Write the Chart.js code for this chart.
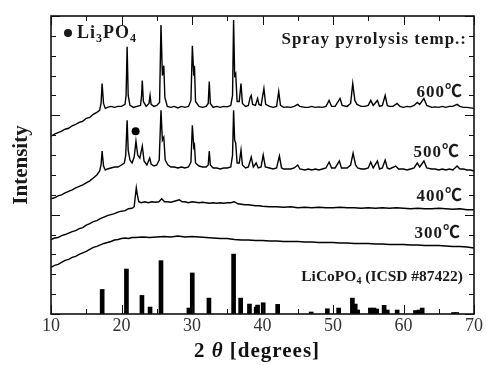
<!DOCTYPE html>
<html>
<head>
<meta charset="utf-8">
<script src="https://cdn.jsdelivr.net/npm/chart.js@4.4.1/dist/chart.umd.min.js"></script>
<style>
  html, body { margin: 0; padding: 0; background: #fff; }
  #wrap { width: 486px; height: 365px; }
</style>
</head>
<body>
<div id="wrap"><canvas id="xrd"></canvas></div>
<script>
// XRD patterns, [2theta, intensity (a.u., offset per trace)]
const trace600 = [[10,179],[10.5,181],[11,182.5],[11.5,184],[12,186],[12.5,187],[13,189.5],[13.5,191],[14,193],[14.5,194],[15,197],[15.5,198],[16,201],[16.5,203],[16.9,205],[17.1,212],[17.25,232],[17.45,212],[17.7,207],[18,208],[18.5,209],[19,208],[19.5,209],[20,209],[20.5,211],[20.65,220],[20.8,269],[20.95,220],[21.2,210],[21.7,208],[22.2,209],[22.7,210],[22.85,220],[22.95,235],[23.1,214],[23.5,209],[23.9,212],[24.05,220],[24.2,211],[24.6,209],[25,210],[25.4,213],[25.6,291],[25.8,240],[26,250],[26.15,218],[26.5,209],[27,208],[27.5,209],[28,207.5],[28.5,209],[29,208],[29.5,209],[29.85,215],[30.05,270],[30.25,240],[30.35,250],[30.5,214],[31,209],[31.5,208],[32,209],[32.3,212],[32.45,234],[32.6,212],[33,208],[33.5,209],[34,208],[34.5,209],[35,208.5],[35.5,210],[35.75,220],[35.9,296],[36.05,240],[36.2,242],[36.4,214],[36.7,214],[36.95,232],[37.15,212],[37.6,209],[38,210],[38.25,218],[38.4,220],[38.6,211],[39,210],[39.3,217],[39.5,211],[39.8,210],[40.2,227],[40.45,211],[41,209],[41.5,208],[42,209],[42.3,224],[42.55,210],[43,208],[43.5,208.5],[44,208],[44.5,209],[45,211],[45.3,209],[46,208],[46.5,208],[46.95,209],[47.5,208],[48,208.5],[48.5,208],[49,209],[49.45,215],[49.8,209],[50.3,209],[51,217],[51.3,210],[52,209],[52.5,212],[52.8,232],[53.1,215],[53.4,211],[54,209],[54.5,209],[55,210],[55.35,215],[55.7,210],[56.3,215],[56.6,209],[57,210],[57.4,220],[57.7,210],[58,209],[58.5,209],[59.1,212],[59.5,209],[60,208],[60.5,209],[61,208.5],[61.5,210],[61.95,213],[62.3,211],[62.9,217],[63.3,210],[64,208],[64.5,208.5],[65,208],[65.5,209],[66,208],[66.5,209],[67,209],[67.6,211],[68,209],[68.5,208],[69,208],[69.5,207.5],[70,207]];

const trace500 = [[10,116],[10.5,117],[11,119],[11.5,120],[12,122],[12.5,123.5],[13,125],[13.5,127],[14,128.5],[14.5,130],[15,132],[15.5,134],[16,137],[16.5,140],[16.9,144],[17.1,150],[17.25,164],[17.45,149],[17.7,145],[18,146],[18.5,147],[19,148],[19.5,148],[20,150],[20.4,152],[20.6,160],[20.8,195],[20.95,165],[21.2,155],[21.5,152],[21.8,158],[22.05,174],[22.3,160],[22.6,157],[22.95,169],[23.2,154],[23.6,150],[24,157],[24.2,151],[24.6,149],[25,150],[25.35,155],[25.6,205],[25.8,175],[26,178],[26.2,155],[26.6,150],[27,148],[27.5,148],[28,147],[28.5,148],[29,147],[29.5,148],[29.85,153],[30.05,190],[30.25,168],[30.35,170],[30.5,152],[31,149],[31.5,148],[32,148],[32.3,150],[32.45,164],[32.6,150],[33,147],[33.5,147],[34,146],[34.5,147],[35,147],[35.5,148],[35.75,160],[35.9,205],[36.05,175],[36.2,172],[36.4,152],[36.7,152],[36.95,165],[37.15,150],[37.6,147],[38,148],[38.4,158],[38.7,148],[39.1,152],[39.4,147],[39.8,148],[40.1,160],[40.4,148],[41,147],[41.5,146],[42,147],[42.4,159],[42.7,147],[43,146],[43.5,146],[44,146],[44.5,147],[45,150],[45.3,146],[46,145],[46.5,146],[47,145],[47.5,146],[48,145],[48.5,146],[49,147],[49.45,153],[49.8,147],[50.3,147],[50.9,154],[51.2,147],[52,147],[52.5,150],[52.85,162],[53.2,150],[53.5,147],[54,146],[54.5,146],[55,147],[55.35,153],[55.7,147],[56.3,154],[56.6,146],[57,147],[57.4,155],[57.7,147],[58,146],[58.9,149],[59.3,146],[60,146],[60.5,145],[61,146],[61.5,147],[61.95,152],[62.3,148],[62.9,154],[63.3,147],[64,146],[64.5,146],[65,145],[65.5,146],[66,145],[66.5,146],[67,145],[67.6,149],[68,146],[68.5,146],[69,145],[69.5,145],[70,144]];

const trace400 = [[10,75],[10.5,76.5],[11,77],[11.5,79],[12,80],[12.5,81.5],[13,83],[13.5,84],[14,86],[14.5,87],[15,89.5],[15.5,91],[16,93],[16.5,94],[17,96],[17.5,97.5],[18,99],[18.5,100],[19,101],[19.5,102.5],[20,103.5],[20.5,104],[21,106],[21.5,106.5],[21.8,108],[21.95,118],[22.1,127],[22.25,120],[22.45,113],[22.8,112],[23.3,113],[23.8,112],[24.3,113],[24.8,112.5],[25.3,113],[25.7,116],[26.1,113],[26.5,113],[27,112.5],[27.5,113.5],[28.2,115],[28.6,113],[29,113],[29.5,112],[30,113],[30.5,112.5],[31,112],[31.5,112.5],[32,112],[32.5,111.5],[33,112],[33.5,111.5],[34,112],[34.5,111.5],[35,112],[35.5,112],[36,113],[36.5,111],[37,110.5],[37.5,110],[38,110],[38.5,109.5],[39,109],[39.5,109],[40,108.5],[41,108],[42,108],[43,107.5],[44,108],[45,107],[46,107.5],[47,107],[48,107.5],[49,107],[50,107],[51,107.5],[52,107],[53,107],[54,106.5],[55,107],[56,106.5],[57,107],[58,106.5],[59,107],[60,106.5],[61,106],[62,106.5],[63,106],[64,106],[65,106.5],[66,106],[67,105.5],[68,106],[69,105],[70,105]];

const trace300 = [[10,47],[10.5,49],[11,50],[11.5,52],[12,54],[12.5,55],[13,57],[13.5,58],[14,60],[14.5,61.5],[15,63],[15.5,65],[16,67],[16.5,68],[17,69.5],[17.5,71],[18,72],[18.5,73],[19,74.5],[19.5,75],[20,76],[20.5,76.5],[21,76],[21.5,77],[22,77],[23,77.5],[24,77],[25,77.5],[26,78],[27,77.5],[28,78.5],[29,77.5],[30,78],[31,77.5],[32,77],[33,76.5],[34,76],[35,76],[36,75],[37,74.5],[38,74.5],[39,74],[40,74],[41,73.5],[42,73.5],[43,73],[44,73],[45,73],[46,72.5],[47,72.5],[48,72],[49,72],[50,72],[51,71.5],[52,71.5],[53,71],[54,71],[55,71],[56,70.5],[57,70.5],[58,70],[59,70],[60,70],[61,69.5],[62,69.5],[63,69],[64,69],[65,69],[66,68.5],[67,68],[68,68],[69,67.5],[70,66.5]];

// LiCoPO4 reference pattern (ICSD #87422)
const refAngles = [17.26, 20.7, 22.9, 24.05, 25.6, 29.56, 30.04, 32.4, 35.9, 36.9, 38.15, 39.1, 39.3, 40.1, 42.15, 46.9, 49.2, 50.8, 52.75, 53.15, 53.5, 55.3, 55.8, 56.2, 57.25, 57.7, 59.1, 61.7, 62.2, 62.65, 67.1, 67.55];
const refHeights = [24.7, 45.3, 18.7, 7, 53.7, 6, 41.3, 16, 60.3, 16, 10, 7, 9, 11.3, 9.7, 2, 5.3, 6, 16, 10, 4, 6, 6, 5, 8.7, 4, 4, 3.5, 4, 6, 1.5, 1.5];

// Li3PO4 impurity peak marker (500 C pattern)
const li3po4Angle = [22.0];
const li3po4Mark = [184];

const xTicks = [10, 20, 30, 40, 50, 60, 70];
const xMinorTicks = [15, 25, 35, 45, 55, 65];
const yTicks = [0, 20, 40, 60, 80, 100, 120, 140, 160, 180, 200, 220, 240, 260, 280, 300];

const SERIF = '"Liberation Serif", "Noto Sans CJK JP", serif';
const toPts = arr => arr.map(p => ({ x: p[0], y: p[1] }));

function lineSet(data) {
  return {
    type: 'line', data: toPts(data), borderColor: '#000', borderWidth: 1.4,
    pointRadius: 0, tension: 0, fill: false
  };
}

function drawRich(ctx, parts, x, y, size, align, spacing) {
  const fontFor = k => (k === 'it' ? 'italic ' : '') + 'bold ' +
    (k === 'sub' ? Math.round(size * 0.65) : size) + 'px ' + SERIF;
  ctx.letterSpacing = (spacing || 0) + 'px';
  let w = 0;
  parts.forEach(([t, k]) => { ctx.font = fontFor(k); w += ctx.measureText(t).width; });
  let cx = align === 'right' ? x - w : align === 'center' ? x - w / 2 : x;
  parts.forEach(([t, k]) => {
    ctx.font = fontFor(k);
    ctx.fillText(t, cx, k === 'sub' ? y + size * 0.22 : y);
    cx += ctx.measureText(t).width;
  });
  ctx.letterSpacing = '0px';
}

const framePlugin = {
  id: 'framePlugin',
  afterDatasetsDraw(chart) {
    const { ctx, chartArea: a, scales: { x, y } } = chart;
    ctx.save();
    ctx.strokeStyle = '#111';
    ctx.lineWidth = 1;
    ctx.beginPath();
    xTicks.concat(xMinorTicks).forEach(v => {
      const px = Math.round(x.getPixelForValue(v)) + 0.5;
      const len = xTicks.includes(v) ? 9 : 5;
      ctx.moveTo(px, a.bottom); ctx.lineTo(px, a.bottom - len);
      ctx.moveTo(px, a.top); ctx.lineTo(px, a.top + len);
    });
    yTicks.forEach(v => {
      const py = Math.round(y.getPixelForValue(v)) + 0.5;
      const len = v % 100 === 0 ? 9 : 5;
      ctx.moveTo(a.left, py); ctx.lineTo(a.left + len, py);
      ctx.moveTo(a.right, py); ctx.lineTo(a.right - len, py);
    });
    ctx.stroke();
    ctx.lineWidth = 1.6;
    ctx.strokeRect(a.left, a.top, a.right - a.left, a.bottom - a.top);

    // annotations
    ctx.fillStyle = '#1a1a1a';
    ctx.textBaseline = 'alphabetic';
    ctx.beginPath();
    ctx.arc(a.left + 17, a.top + 17, 4, 0, Math.PI * 2);
    ctx.fill();
    drawRich(ctx, [['Li', ''], ['3', 'sub'], ['PO', ''], ['4', 'sub']], a.left + 26, a.top + 22, 18, 'left', 1);
    drawRich(ctx, [['Spray pyrolysis temp.:', '']], a.right - 7, a.top + 28, 17, 'right', 1);
    drawRich(ctx, [['600℃', '']], a.right - 11, 97, 17, 'right', 1);
    drawRich(ctx, [['500℃', '']], a.right - 14, 157, 17, 'right', 1);
    drawRich(ctx, [['400℃', '']], a.right - 11, 201, 17, 'right', 1);
    drawRich(ctx, [['300℃', '']], a.right - 13, 238, 17, 'right', 1);
    drawRich(ctx, [['LiCoPO', ''], ['4', 'sub'], [' (ICSD #87422)', '']], a.right - 11, 281, 15.5, 'right', 0);

    // x axis title
    ctx.fillStyle = '#111';
    drawRich(ctx, [['2 ', ''], ['θ', 'it'], [' [degrees]', '']], 257, 356.5, 21, 'center', 1);
    ctx.restore();
  }
};

const ctx = document.getElementById('xrd').getContext('2d');
new Chart(ctx, {
  type: 'line',
  data: {
    datasets: [
      lineSet(trace600),
      lineSet(trace500),
      lineSet(trace400),
      lineSet(trace300),
      {
        type: 'bar',
        data: refAngles.map((v, i) => ({ x: v, y: refHeights[i] })),
        backgroundColor: '#000', borderWidth: 0, barThickness: 4, grouped: false
      },
      {
        type: 'line', showLine: false,
        data: li3po4Angle.map((v, i) => ({ x: v, y: li3po4Mark[i] })),
        pointRadius: 4, pointBackgroundColor: '#000', pointBorderWidth: 0
      }
    ]
  },
  options: {
    responsive: true,
    maintainAspectRatio: false,
    animation: false,
    layout: { padding: { top: 16, right: 11, bottom: 27, left: 0 } },
    plugins: { legend: { display: false }, tooltip: { enabled: false } },
    scales: {
      x: {
        type: 'linear', min: 10, max: 70, offset: false,
        grid: { display: false, drawTicks: false },
        border: { display: false },
        ticks: {
          stepSize: 10, padding: 3, color: '#333',
          font: { family: SERIF, size: 18, lineHeight: 1 }
        }
      },
      y: {
        min: 0, max: 300,
        grid: { display: false, drawTicks: false },
        border: { display: false },
        ticks: { display: false },
        title: {
          display: true, text: 'Intensity', color: '#1a1a1a',
          font: { family: SERIF, size: 21, weight: 'bold', lineHeight: 1.2 },
          padding: { top: 9, bottom: 16.8 }
        }
      }
    }
  },
  plugins: [framePlugin]
});
</script>
</body>
</html>
